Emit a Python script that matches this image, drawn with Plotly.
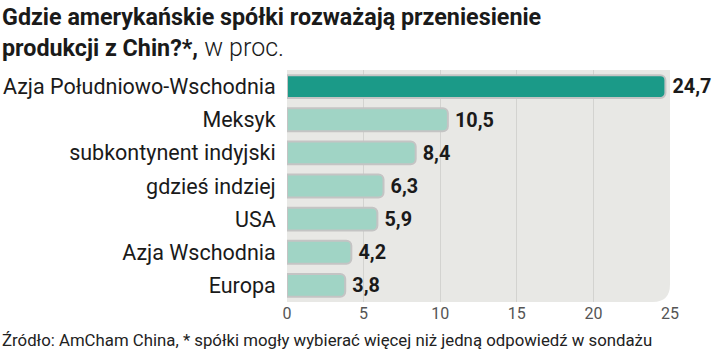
import plotly.graph_objects as go

categories = ["Azja Południowo-Wschodnia", "Meksyk", "subkontynent indyjski",
              "gdzieś indziej", "USA", "Azja Wschodnia", "Europa"]
values = [24.7, 10.5, 8.4, 6.3, 5.9, 4.2, 3.8]
x_ticks = [0, 5, 10, 15, 20, 25]

labels = ["\u2009" + f"{v:.1f}".replace(".", ",") for v in values]
colors = ["#1b9a88"] + ["#a0d4c5"] * (len(values) - 1)

fig = go.Figure(go.Bar(
    y=categories, x=values, orientation="h",
    marker=dict(color=colors, line=dict(color="#c4c4c4", width=2)),
    text=labels, textposition="outside", cliponaxis=False,
    textfont=dict(family="Roboto", size=26, color="#1a1a1a", weight="bold"),
))

r = 0.045
ry = 0.075
path = (f"M 0,0 L {1-r},0 Q 1,0 1,{ry} L 1,1 L 0,1 Z")
fig.add_shape(type="path", path=path, xref="x domain", yref="y domain",
              fillcolor="#e8e8e5", line=dict(width=0), layer="below")

def py(p):
    return 1 + (70 - p) / 232

fig.update_layout(
    width=720, height=352,
    margin=dict(l=287, r=50, t=70, b=50, autoexpand=False),
    paper_bgcolor="white", plot_bgcolor="rgba(0,0,0,0)",
    barcornerradius=5, bargap=0.31,
    showlegend=False,
    font=dict(family="Roboto, Liberation Sans, sans-serif", color="#222"),
    xaxis=dict(range=[0, 25], tickvals=x_ticks, showgrid=True, gridcolor="#d3d3d0",
               gridwidth=1, zeroline=False, showline=False, automargin=False,
               tickfont=dict(size=16, color="#555"), ticks="", ticklen=0),
    yaxis=dict(autorange="reversed", showgrid=False, zeroline=False, automargin=False,
               tickfont=dict(size=21.5, color="#1a1a1a"), ticks="outside", ticklen=6,
               tickcolor="rgba(0,0,0,0)"),
)

fig.add_annotation(xref="paper", yref="paper", x=-287/383, y=py(17), xanchor="left", yanchor="middle",
                   text="<b>Gdzie amerykańskie spółki rozważają przeniesienie</b>",
                   showarrow=False, font=dict(size=23.3, color="#1a1a1a", family="Roboto"))
fig.add_annotation(xref="paper", yref="paper", x=-287/383, y=py(48), xanchor="left", yanchor="middle",
                   text="<b>produkcji z Chin?*,</b><span style='font-size:25px;font-weight:300'> w proc.</span>",
                   showarrow=False, font=dict(size=23.3, color="#1a1a1a", family="Roboto"))
fig.add_annotation(xref="paper", yref="paper", x=-287/383, y=py(340), xanchor="left", yanchor="middle",
                   text="Źródło: AmCham China, * spółki mogły wybierać więcej niż jedną odpowiedź w sondażu",
                   showarrow=False, font=dict(size=16.8, color="#222", family="Roboto"))

fig.write_html("out.html")
